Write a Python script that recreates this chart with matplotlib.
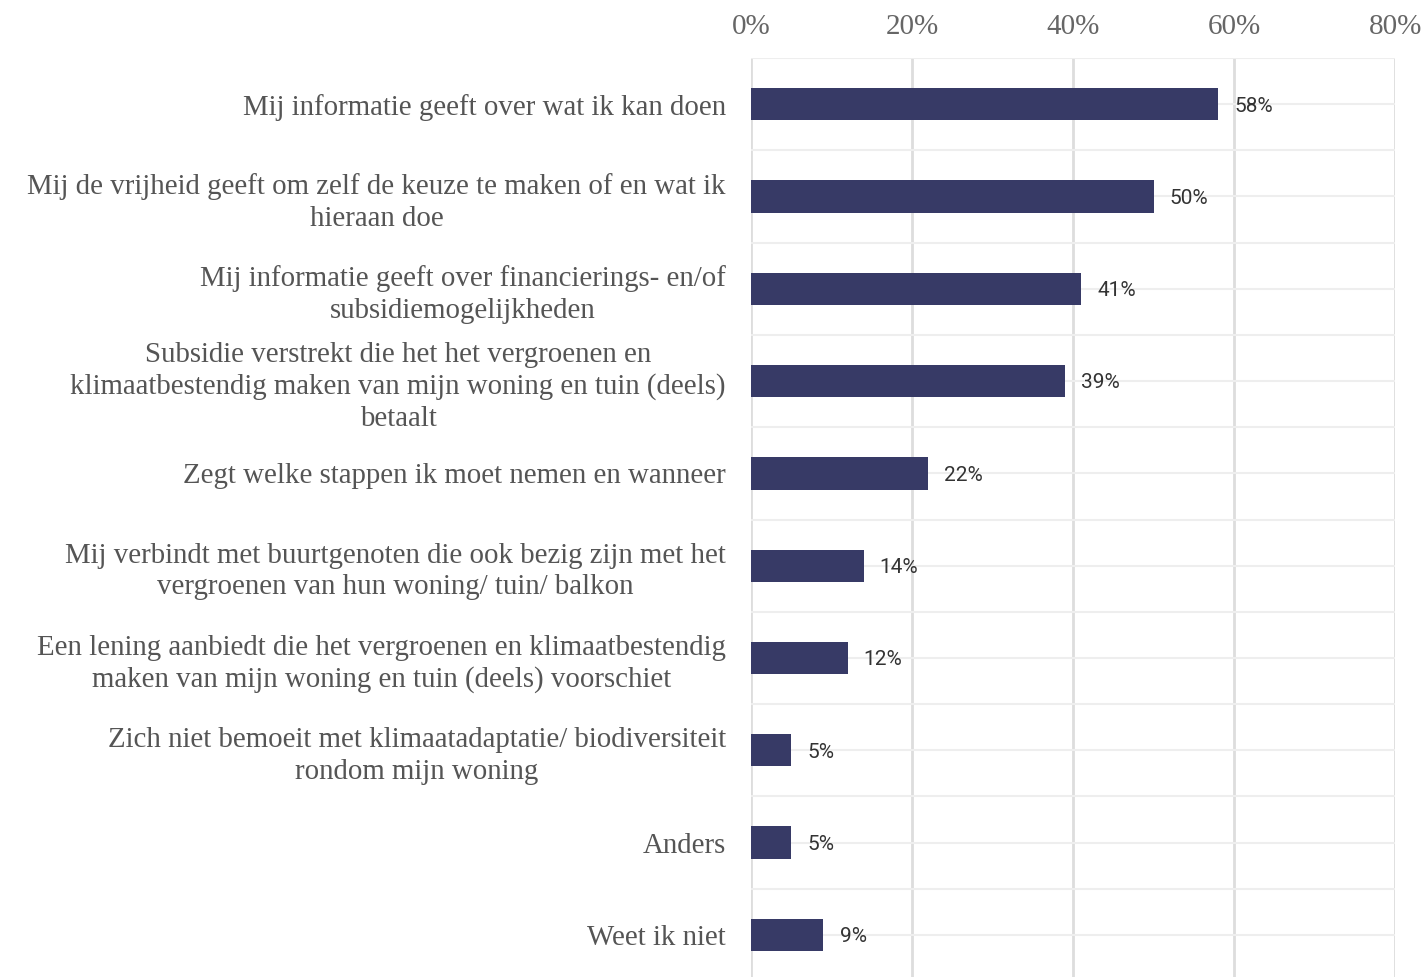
import matplotlib
matplotlib.use('Agg')
import matplotlib.pyplot as plt
from matplotlib.ticker import FuncFormatter, MultipleLocator

labels = [
    'Mij informatie geeft over wat ik kan doen',
    'Mij de vrijheid geeft om zelf de keuze te maken of en wat ik\nhieraan doe',
    'Mij informatie geeft over financierings- en/of\nsubsidiemogelijkheden',
    'Subsidie verstrekt die het het vergroenen en\nklimaatbestendig maken van mijn woning en tuin (deels)\nbetaalt',
    'Zegt welke stappen ik moet nemen en wanneer',
    'Mij verbindt met buurtgenoten die ook bezig zijn met het\nvergroenen van hun woning/ tuin/ balkon',
    'Een lening aanbiedt die het vergroenen en klimaatbestendig\nmaken van mijn woning en tuin (deels) voorschiet',
    'Zich niet bemoeit met klimaatadaptatie/ biodiversiteit\nrondom mijn woning',
    'Anders',
    'Weet ik niet',
]
values = [58, 50, 41, 39, 22, 14, 12, 5, 5, 9]

bar_color = '#373a66'
serif = ['Liberation Serif', 'DejaVu Serif']

fig = plt.figure(figsize=(14.25, 9.77), dpi=100)
ax = fig.add_axes([0.527, -0.0041, 0.452, 0.9447])

y = list(range(len(labels)))
ax.barh(y, values, height=0.35, color=bar_color, zorder=3)
for yi, v in zip(y, values):
    ax.text(v + 2.0, yi + 0.02, f'{v}%', va='center', ha='left', fontsize=15,
            family='Roboto', color='#333333', zorder=4)

ax.set_xlim(0, 80)
ax.set_ylim(9.5, -0.5)
ax.xaxis.set_major_locator(MultipleLocator(20))
ax.xaxis.set_major_formatter(FuncFormatter(lambda x, p: f'{x:.0f}%'))
ax.xaxis.tick_top()
ax.set_yticks(y)
ax.set_yticklabels(labels, family=serif, fontsize=20.8, color='#555555',
                   ha='right', multialignment='center', linespacing=1.28)
ax.tick_params(axis='y', length=0, pad=18)
ax.tick_params(axis='x', length=0, pad=13, labelsize=21, labelcolor='#666666')
for lab in ax.get_xticklabels():
    lab.set_family(serif)

ax.set_yticks([i + 0.5 for i in range(-1, 10)], minor=True)
ax.tick_params(axis='y', which='minor', length=0)
ax.grid(axis='x', color='#dddddd', linewidth=2, zorder=0)
ax.grid(axis='y', which='both', color='#eeeeee', linewidth=1.5, zorder=0)
for s in ax.spines.values():
    s.set_visible(False)

fig.savefig('out.png', dpi=100)
